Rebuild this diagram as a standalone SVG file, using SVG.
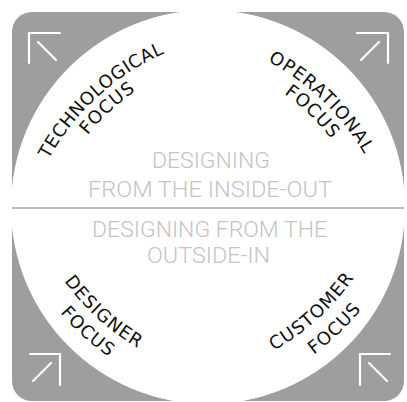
<svg xmlns="http://www.w3.org/2000/svg" width="407" height="402" viewBox="0 0 407 402">
<style>
.arc{font-family:"DejaVu Sans","Open Sans",sans-serif;font-size:18px;fill:#111;letter-spacing:1px}
.mid{font-family:Roboto,"Liberation Sans",sans-serif;font-weight:300;font-size:22px;fill:#c4c4c4;text-anchor:middle}
.arw{fill:none;stroke:#fff;stroke-width:2.2;stroke-linecap:round}
</style>
<defs>
<path id="pTL1" d="M20.59,245.09 A244.5,244.5 0 0 1 252.34,32.73"/>
<path id="pTL2" d="M47.82,209.57 A225.5,225.5 0 0 1 213.81,56.93"/>
<path id="pTR1" d="M170.06,33.10 A244.5,244.5 0 0 1 396.16,251.44"/>
<path id="pTR2" d="M207.55,58.2 A225.5,225.5 0 0 1 369.76,214.84"/>
<path id="pBL1" d="M19.71,169.89 A245.5,245.5 0 0 0 253.15,382.3"/>
<path id="pBL2" d="M7.64,219.97 A268.5,268.5 0 0 0 207.18,399.63"/>
<path id="pBR1" d="M162.85,382.3 A245.5,245.5 0 0 0 396.29,169.89"/>
<path id="pBR2" d="M216.15,400.03 A270.5,270.5 0 0 0 412.36,213.83"/>
<clipPath id="sq"><rect x="12" y="12" width="392" height="389" rx="20"/></clipPath>
</defs>
<g id="background">
<rect x="12" y="12" width="392" height="389" rx="20" fill="#9e9e9e"/>
<circle cx="208" cy="207" r="197" fill="#fff" clip-path="url(#sq)"/>
</g>
<g id="connectors">
<line x1="12" y1="208" x2="404" y2="208" stroke="#7a7a7a" stroke-width="1"/>
<path class="arw" d="M29,63 V33 H60 M38,42 L56,60"/>
<path class="arw" d="M357,33 H388 V63 M379,42 L361,60"/>
<path class="arw" d="M30,354 H60 V385 M51,363 L33,381"/>
<path class="arw" d="M390,354 H360 V385 M369,363 L387,381"/>
</g>
<g id="technological-focus">
<text class="arc" style="letter-spacing:0.5px"><textPath href="#pTL1" startOffset="50%" text-anchor="middle">TECHNOLOGICAL</textPath></text>
<text class="arc"><textPath href="#pTL2" startOffset="50%" text-anchor="middle">FOCUS</textPath></text>
</g>
<g id="operational-focus">
<text class="arc"><textPath href="#pTR1" startOffset="50%" text-anchor="middle">OPERATIONAL</textPath></text>
<text class="arc"><textPath href="#pTR2" startOffset="50%" text-anchor="middle">FOCUS</textPath></text>
</g>
<g id="designer-focus">
<text class="arc"><textPath href="#pBL1" startOffset="50%" text-anchor="middle">DESIGNER</textPath></text>
<text class="arc"><textPath href="#pBL2" startOffset="50%" text-anchor="middle">FOCUS</textPath></text>
</g>
<g id="customer-focus">
<text class="arc"><textPath href="#pBR1" startOffset="50%" text-anchor="middle">CUSTOMER</textPath></text>
<text class="arc"><textPath href="#pBR2" startOffset="50%" text-anchor="middle">FOCUS</textPath></text>
</g>
<g id="inside-out">
<text class="mid" x="211" y="168" textLength="118" lengthAdjust="spacingAndGlyphs">DESIGNING</text>
<text class="mid" x="210" y="197" textLength="244" lengthAdjust="spacingAndGlyphs">FROM THE INSIDE-OUT</text>
</g>
<g id="outside-in">
<text class="mid" x="209.5" y="237" textLength="235" lengthAdjust="spacingAndGlyphs">DESIGNING FROM THE</text>
<text class="mid" x="208.5" y="263" textLength="123" lengthAdjust="spacingAndGlyphs">OUTSIDE-IN</text>
</g>
</svg>
